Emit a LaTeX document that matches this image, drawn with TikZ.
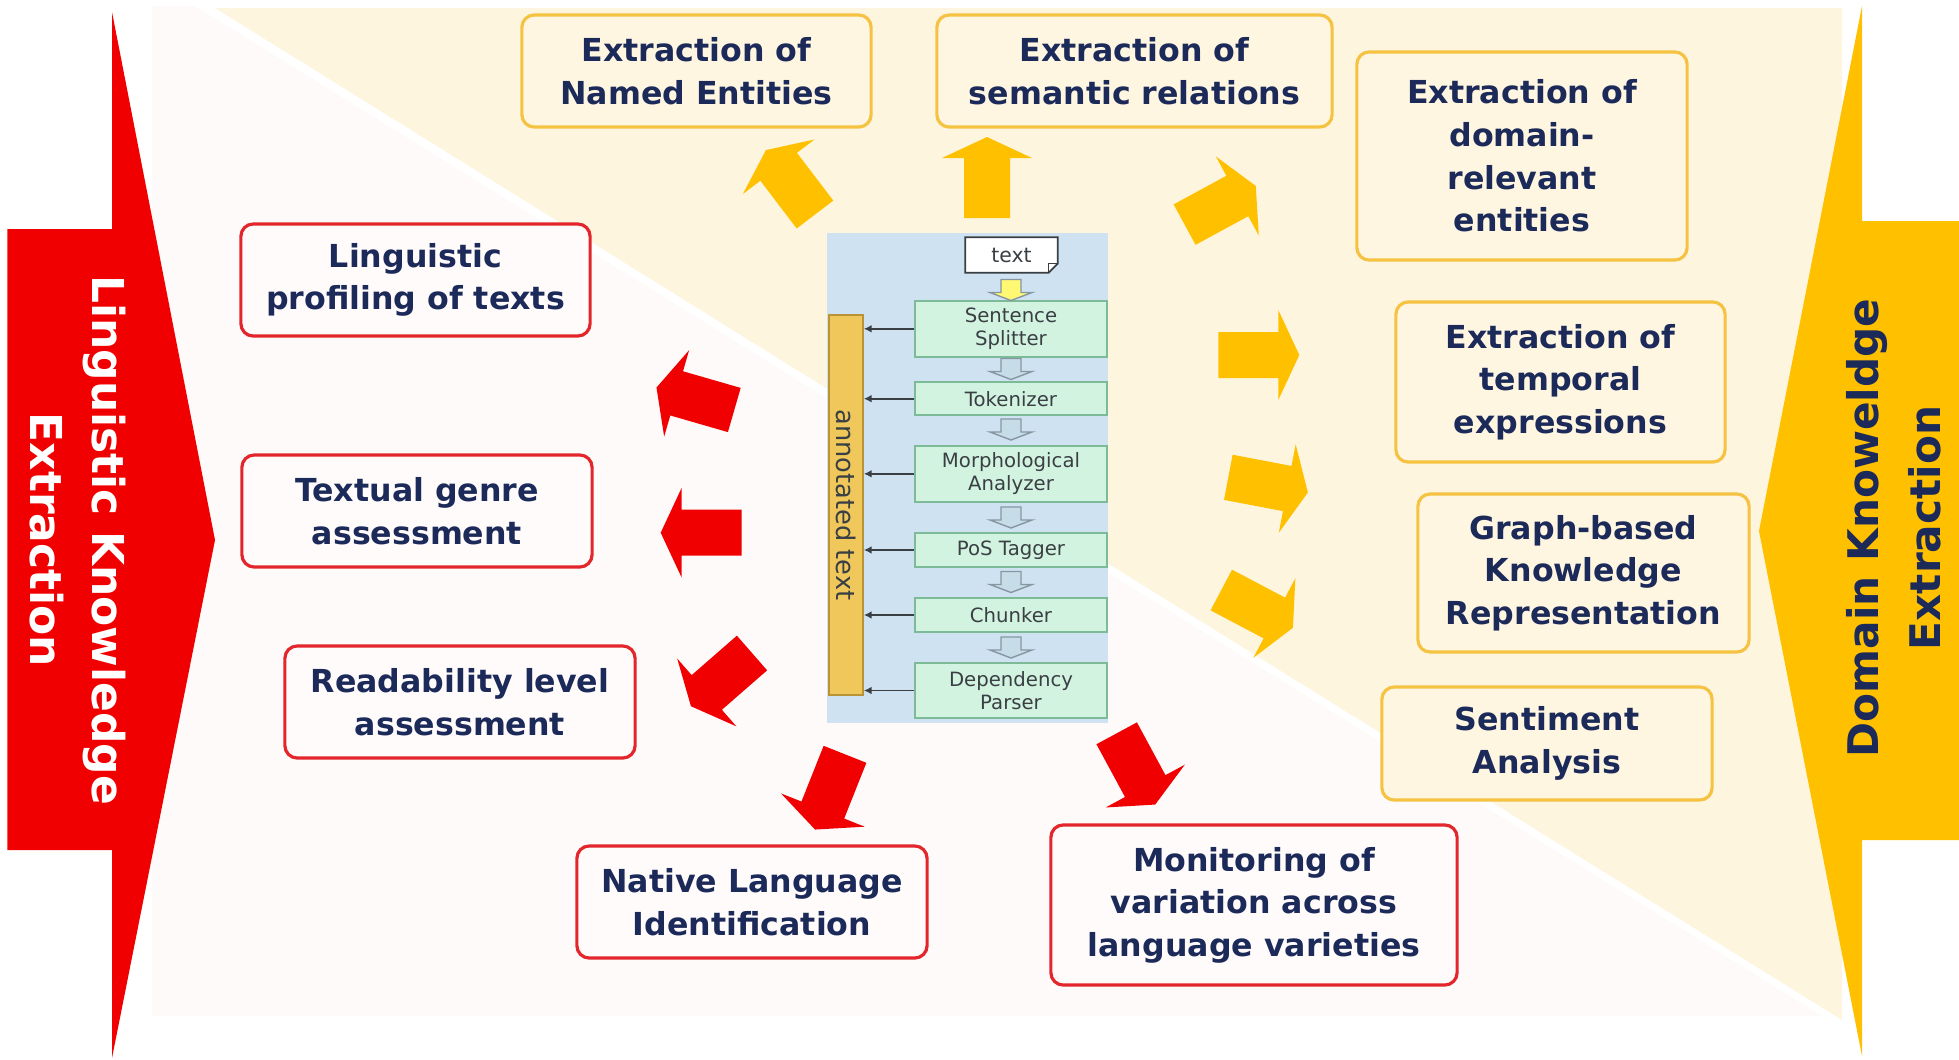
\documentclass[tikz,border=0pt]{standalone}
\usepackage{fontspec}
\setmainfont{DejaVu Sans}
\usetikzlibrary{arrows.meta}

\definecolor{navy}{HTML}{1C2A5A}
\definecolor{cream}{HTML}{FEF5DF}
\definecolor{blush}{HTML}{FEFAFA}
\definecolor{gold}{HTML}{FFC000}
\definecolor{boxgold}{HTML}{F5C242}
\definecolor{boxcream}{HTML}{FFF6E2}
\definecolor{sigred}{HTML}{F00000}
\definecolor{boxred}{HTML}{E2262B}
\definecolor{boxpink}{HTML}{FFFBFB}
\definecolor{panelblue}{HTML}{CEE2F1}
\definecolor{stagegreen}{HTML}{D3F3E1}
\definecolor{stageline}{HTML}{7DBB98}
\definecolor{bargold}{HTML}{EFC75A}
\definecolor{bardark}{HTML}{B99437}
\definecolor{inkgrey}{HTML}{3A3F44}
\definecolor{flowfill}{HTML}{C6DCE7}
\definecolor{flowline}{HTML}{8797A2}

\tikzset{
  ybox/.style={draw=boxgold, line width=0.9pt, fill=boxcream, rounded corners=3.5pt,
    align=center, text=navy, inner sep=0pt,
    font=\fontsize{9}{12.1}\selectfont\bfseries},
  rbox/.style={ybox, draw=boxred, fill=boxpink},
  stage/.style={draw=stageline, line width=0.5pt, fill=stagegreen, align=center,
    text=inkgrey, inner sep=0pt, minimum width=1.92cm,
    font=\fontsize{5.6}{6.6}\selectfont},
  feed/.style={draw=inkgrey, line width=0.45pt, -{Latex[length=2.2pt,width=2.2pt]}},
  flowdown/.pic={
    \filldraw[fill=flowfill, draw=flowline, line width=0.4pt]
      (-10,0) -- (10,0) -- (10,13) -- (21,13) -- (0,21) -- (-21,13) -- (-10,13) -- cycle;
  },
  flowstart/.pic={
    \filldraw[fill=yellow!55, draw=flowline, line width=0.4pt]
      (-10,0) -- (10,0) -- (10,13) -- (21,13) -- (0,21) -- (-21,13) -- (-10,13) -- cycle;
  },
}

% block arrow: tail centre, direction angle, colour
\newcommand\blockarrow[3]{%
  \begin{scope}[shift={(#1)}, rotate=#2]
    \fill[#3] (0,-23) -- (60,-23) -- (60,-45) -- (81,0) -- (60,45) -- (60,23) -- (0,23) -- cycle;
  \end{scope}}

\begin{document}
\begin{tikzpicture}[x=0.01cm, y=-0.01cm]
\useasboundingbox (0,0) rectangle (1959,1060);
\fill[white] (0,0) rectangle (1959,1060);

% two background triangles
\fill[blush] (152,6) -- (195,6) -- (1822,1016) -- (152,1016) -- cycle;
\fill[cream] (215,8) -- (1842,8) -- (1842,1020) -- cycle;

% large side arrows
\fill[sigred] (7.5,229) -- (112,229) -- (112,12) -- (215,540) -- (112,1058) -- (112,850) -- (7.5,850) -- cycle;
\fill[gold] (1959,221) -- (1862,221) -- (1862,6) -- (1759,531) -- (1862,1056) -- (1862,840) -- (1959,840) -- cycle;
\node[rotate=-90, text=white, align=center, font=\fontsize{12.5}{17.5}\selectfont\bfseries]
  (lingtitle) at (78,540) {Linguistic Knowledge\\Extraction};
\node[rotate=90, text=navy, align=center, font=\fontsize{12}{17.5}\selectfont\bfseries]
  (domtitle) at (1894,528) {Domain Knoweldge\\Extraction};

% domain knowledge tasks
\node[ybox, minimum width=3.49cm, minimum height=1.12cm] (ne) at (696.5,71) {Extraction of\\Named Entities};
\node[ybox, minimum width=3.95cm, minimum height=1.12cm] (sr) at (1134.5,71) {Extraction of\\semantic relations};
\node[ybox, minimum width=3.30cm, minimum height=2.08cm] (dr) at (1522,156) {Extraction of\\domain-\\relevant\\entities};
\node[ybox, minimum width=3.29cm, minimum height=1.60cm] (te) at (1560.5,382) {Extraction of\\temporal\\expressions};
\node[ybox, minimum width=3.31cm, minimum height=1.58cm] (gb) at (1583.5,573) {Graph-based\\Knowledge\\Representation};
\node[ybox, minimum width=3.30cm, minimum height=1.13cm] (sa) at (1547,743.5) {Sentiment\\Analysis};

% linguistic knowledge tasks
\node[rbox, minimum width=3.49cm, minimum height=1.12cm] (lp) at (415.5,280) {Linguistic\\profiling of texts};
\node[rbox, minimum width=3.50cm, minimum height=1.12cm] (tg) at (417,511) {Textual genre\\assessment};
\node[rbox, minimum width=3.50cm, minimum height=1.12cm] (rl) at (460,702) {Readability level\\assessment};
\node[rbox, minimum width=3.50cm, minimum height=1.12cm] (nl) at (752,902) {Native Language\\Identification};
\node[rbox, minimum width=4.06cm, minimum height=1.60cm] (mv) at (1254,905) {Monitoring of\\variation across\\language varieties};

% block arrows towards the domain tasks
\blockarrow{815,214.5}{127.3}{gold}
\blockarrow{987,218}{90}{gold}
\blockarrow{1184.6,224.6}{28.5}{gold}
\blockarrow{1218.3,355}{0}{gold}
\blockarrow{1228.3,477.3}{-10.8}{gold}
\blockarrow{1221.3,590}{-27.8}{gold}

% block arrows towards the linguistic tasks
\blockarrow{734.3,410}{163.9}{sigred}
\blockarrow{741.7,532.7}{180}{sigred}
\blockarrow{752,653}{221.1}{sigred}
\blockarrow{845,754.3}{248.3}{sigred}
\blockarrow{1116.7,733.3}{-61.6}{sigred}

% processing pipeline
\node[fill=panelblue, minimum width=2.81cm, minimum height=4.90cm, inner sep=0pt] (panel) at (967.5,478) {};
\node[fill=bargold, draw=bardark, line width=0.5pt, minimum width=0.34cm, minimum height=3.80cm, inner sep=0pt] (bar) at (846,505) {};
\node[rotate=-90, text=inkgrey, font=\fontsize{7.3}{8}\selectfont] (bartext) at (bar.center) {annotated text};

% input document with a folded corner
\node[inner sep=0pt, minimum width=0.91cm, minimum height=0.34cm] (doc) at (1011.5,255) {};
\filldraw[fill=white, draw=inkgrey, line width=0.5pt]
  (doc.north west) -- (doc.north east) -- ([yshift=2.6pt]doc.south east)
  -- ([xshift=-2.6pt]doc.south east) -- (doc.south west) -- cycle;
\draw[inkgrey, line width=0.4pt] ([yshift=2.6pt]doc.south east) -- ([xshift=-2.6pt,yshift=2.6pt]doc.south east) -- ([xshift=-2.6pt]doc.south east);
\node[inner sep=0pt, text=inkgrey, font=\fontsize{5.8}{6.6}\selectfont] (doclabel) at (doc.center) {text};

\node[stage, minimum height=0.557cm] (ss) at (1011,328.8) {Sentence\\Splitter};
\node[stage, minimum height=0.327cm] (tok) at (1011,398.7) {Tokenizer};
\node[stage, minimum height=0.557cm] (morph) at (1011,473.8) {Morphological\\Analyzer};
\node[stage, minimum height=0.334cm] (pos) at (1011,550) {PoS Tagger};
\node[stage, minimum height=0.334cm] (chunk) at (1011,615) {Chunker};
\node[stage, minimum height=0.556cm] (dep) at (1011,690.5) {Dependency\\Parser};

\pic at (1011,279.5) {flowstart};
\pic at (1011,358.5) {flowdown};
\pic at (1011,419) {flowdown};
\pic at (1011,507) {flowdown};
\pic at (1011,571.5) {flowdown};
\pic at (1011,637) {flowdown};

\foreach \s in {ss,tok,morph,pos,chunk,dep}
  \draw[feed] (\s.west) -- (\s.west -| bar.east);
\end{tikzpicture}
\end{document}
